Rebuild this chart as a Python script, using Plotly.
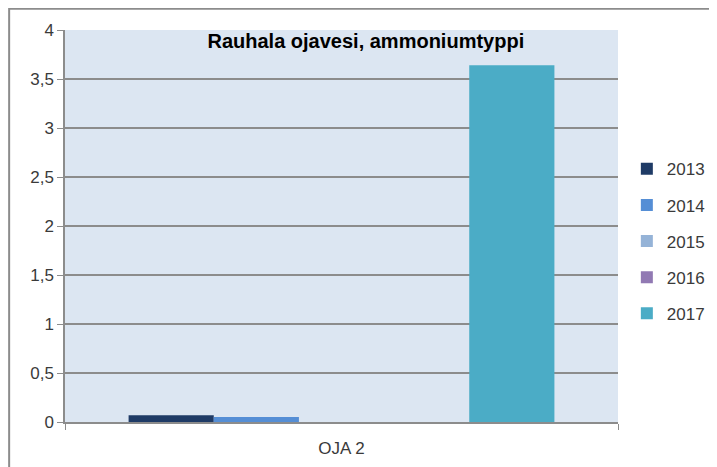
import plotly.graph_objects as go

categories = ["OJA 2"]
years = ["2013", "2014", "2015", "2016", "2017"]
values = [0.07, 0.05, 0.0, 0.0, 3.64]
colors = ["#1F3B66", "#558ED5", "#95B3D7", "#9179B3", "#4BACC6"]
y_ticks = [0, 0.5, 1, 1.5, 2, 2.5, 3, 3.5, 4]

fig = go.Figure()
for yr, v, c in zip(years, values, colors):
    fig.add_trace(go.Bar(x=categories, y=[v], name=yr, marker=dict(color=c, line=dict(width=0)),
                         legendgroup=yr))

W, H = 709, 459
L, T, R, B = 57, 22, 99, 45
fig.update_layout(
    width=W, height=H,
    margin=dict(l=L, r=R, t=T, b=B, autoexpand=False),
    paper_bgcolor="white", plot_bgcolor="#DCE6F2",
    separators=", ",
    barmode="group", bargap=0.23, bargroupgap=0,
    font=dict(family="Liberation Sans", size=17, color="#3A3A3A"),
    title=dict(text="<b>Rauhala ojavesi, ammoniumtyppi</b>", xref="paper", x=0.544, xanchor="center",
               y=1 - 33 / H, yanchor="middle",
               font=dict(family="Liberation Sans", size=20, color="black")),
    showlegend=True,
    legend=dict(xref="paper", x=1.016, y=0.461, yanchor="middle", xanchor="left",
                traceorder="grouped", tracegroupgap=11,
                font=dict(size=17, color="#3A3A3A"), bgcolor="rgba(0,0,0,0)"),
    shapes=[dict(type="rect", xref="paper", yref="paper", x0=-0.101, x1=1.4, y0=-0.3, y1=1.054,
                 line=dict(color="#8C8C8C", width=2), fillcolor="rgba(0,0,0,0)", layer="above")],
)
fig.update_yaxes(range=[0, 4], tickvals=y_ticks, showgrid=True, gridcolor="#8C8C8C", gridwidth=1.5,
                 showline=True, linecolor="#8C8C8C", linewidth=1.5, ticks="outside", ticklen=6,
                 tickcolor="#8C8C8C", zeroline=False, tickfont=dict(size=17, color="#3A3A3A"))
fig.update_xaxes(showline=True, linecolor="#8C8C8C", linewidth=2, ticks="outside", tickson="boundaries",
                 ticklen=6, tickcolor="#8C8C8C", ticklabelstandoff=10,
                 tickfont=dict(size=17, color="#3A3A3A"))

fig.write_html("out.html")
